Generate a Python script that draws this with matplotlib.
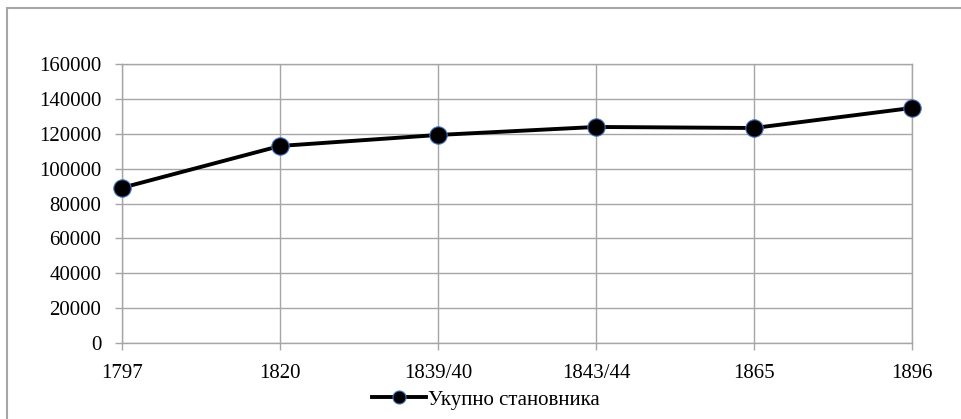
import matplotlib.pyplot as plt
from matplotlib.patches import Rectangle

# population census data
years = ["1797", "1820", "1839/40", "1843/44", "1865", "1896"]
population = [89000, 113000, 119300, 123900, 123300, 134800]
yticks = [0, 20000, 40000, 60000, 80000, 100000, 120000, 140000, 160000]

plt.rcParams['font.family'] = ['Liberation Serif', 'DejaVu Serif']
grid_col = '#a6a6a6'

fig = plt.figure(figsize=(9.62, 4.19), dpi=100)
ax = fig.add_axes([122/962, 1 - 343/419, 790/962, 279/419])

x = list(range(len(years)))
ax.plot(x, population, color='black', lw=2.8, marker='o', markersize=12.5,
        markerfacecolor='black', markeredgecolor='#4472C4', markeredgewidth=0.8,
        label='Укупно становника', zorder=3, clip_on=False)

ax.set_xlim(0, len(years) - 1)
ax.set_ylim(0, 160000)
ax.set_xticks(x)
ax.set_xticklabels(years)
ax.set_yticks(yticks)
ax.set_yticklabels([str(v) for v in yticks])
ax.grid(True, color=grid_col, lw=1)
for s in ax.spines.values():
    s.set_color(grid_col)
    s.set_linewidth(1)
ax.tick_params(axis='both', colors=grid_col, length=5, width=1, labelsize=15,
               labelcolor='black')
ax.tick_params(axis='y', pad=10)
ax.tick_params(axis='x', pad=10)

fig.legend(loc='center', bbox_to_anchor=(0.505, 1 - 400/419), frameon=False,
           fontsize=15, handlelength=2.6, handletextpad=0.1, markerscale=0.75)

# outer chart border (cut off at right and bottom)
fig.patches.append(Rectangle((7.5/962, -0.1), 1.2, 1 - 8.5/419 + 0.1,
                             transform=fig.transFigure, fill=False,
                             edgecolor=grid_col, lw=1.5))

fig.savefig('out.png', dpi=100)
